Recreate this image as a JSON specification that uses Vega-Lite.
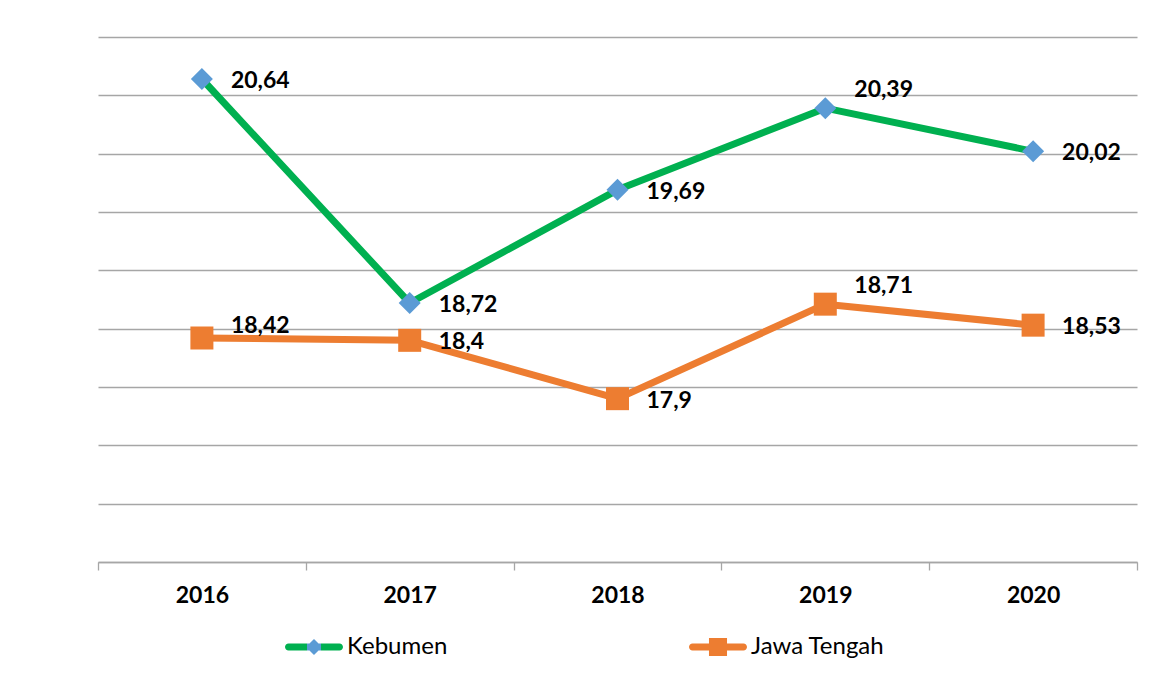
{
  "$schema": "https://vega.github.io/schema/vega-lite/v6.json",
  "width": 1039,
  "height": 525,
  "autosize": "none",
  "padding": {"left": 98, "top": 37, "right": 16, "bottom": 113},
  "background": "white",
  "config": {"view": {"stroke": null}, "legend": {"layout": {"bottom": {"anchor": "middle"}}}},
  "data": {
    "values": [
      {"year": "2016", "series": "Kebumen", "value": 20.64, "label": "20,64"},
      {"year": "2017", "series": "Kebumen", "value": 18.72, "label": "18,72"},
      {"year": "2018", "series": "Kebumen", "value": 19.69, "label": "19,69"},
      {"year": "2019", "series": "Kebumen", "value": 20.39, "label": "20,39"},
      {"year": "2020", "series": "Kebumen", "value": 20.02, "label": "20,02"},
      {"year": "2016", "series": "Jawa Tengah", "value": 18.42, "label": "18,42"},
      {"year": "2017", "series": "Jawa Tengah", "value": 18.4, "label": "18,4"},
      {"year": "2018", "series": "Jawa Tengah", "value": 17.9, "label": "17,9"},
      {"year": "2019", "series": "Jawa Tengah", "value": 18.71, "label": "18,71"},
      {"year": "2020", "series": "Jawa Tengah", "value": 18.53, "label": "18,53"}
    ]
  },
  "encoding": {
    "x": {
      "field": "year",
      "type": "ordinal",
      "scale": {"type": "band", "paddingInner": 0, "paddingOuter": 0},
      "axis": {
        "title": null,
        "labelAngle": 0,
        "labelFont": "Lato",
        "labelFontWeight": "bold",
        "labelFontSize": 23,
        "labelColor": "#000000",
        "domainColor": "#A6A6A6",
        "domainWidth": 1.3,
        "tickColor": "#A6A6A6",
        "tickWidth": 1.3,
        "tickSize": 8,
        "tickBand": "extent",
        "labelPadding": 14,
        "grid": false
      }
    },
    "y": {
      "field": "value",
      "type": "quantitative",
      "scale": {"domain": [16.5, 21], "nice": false, "zero": false},
      "axis": {
        "title": null,
        "values": [16.5, 17, 17.5, 18, 18.5, 19, 19.5, 20, 20.5, 21],
        "labels": false,
        "ticks": false,
        "domain": false,
        "grid": true,
        "gridColor": "#A6A6A6",
        "gridWidth": 1.3
      }
    }
  },
  "layer": [
    {
      "mark": {"type": "line", "strokeWidth": 7, "strokeCap": "round", "strokeJoin": "round"},
      "encoding": {
        "stroke": {
          "field": "series",
          "type": "nominal",
          "scale": {"domain": ["Kebumen", "Jawa Tengah"], "range": ["#00B050", "#ED7D31"]},
          "legend": {
            "title": null,
            "orient": "bottom",
            "direction": "horizontal",
            "labelFont": "Lato",
            "labelFontSize": 24,
            "labelColor": "#000000",
            "symbolSize": 484,
            "symbolStrokeWidth": 0,
            "symbolOpacity": 1,
            "labelOffset": 21,
            "columnPadding": 241,
            "offset": 28,
            "encode": {
              "symbols": {
                "update": {
                  "shape": {"signal": "datum.value === 'Kebumen' ? 'M-2.318,-0.318L2.318,-0.318A0.318,0.318 0 0 1 2.318,0.318L-2.318,0.318A0.318,0.318 0 0 1 -2.318,-0.318ZM0,-0.73L0.73,0L0,0.73L-0.73,0Z' : 'M-2.318,-0.318L2.318,-0.318A0.318,0.318 0 0 1 2.318,0.318L-2.318,0.318A0.318,0.318 0 0 1 -2.318,-0.318ZM-0.82,-0.82L0.82,-0.82L0.82,0.82L-0.82,0.82ZM19.5,0'"},
                  "fill": {"signal": "datum.value === 'Kebumen' ? {gradient: 'linear', x1: 0, y1: 0, x2: 1, y2: 0, stops: [{offset: 0, color: '#00B050'}, {offset: 0.385, color: '#00B050'}, {offset: 0.385, color: '#5B9BD5'}, {offset: 0.615, color: '#5B9BD5'}, {offset: 0.615, color: '#00B050'}, {offset: 1, color: '#00B050'}]} : '#ED7D31'"},
                  "strokeWidth": {"value": 0}
                }
              }
            }
          }
        }
      }
    },
    {
      "transform": [{"filter": "datum.series === 'Kebumen'"}],
      "mark": {"type": "point", "shape": "diamond", "filled": true, "fill": "#5B9BD5", "opacity": 1, "size": 484, "strokeWidth": 0}
    },
    {
      "transform": [{"filter": "datum.series === 'Jawa Tengah'"}],
      "mark": {"type": "point", "shape": "square", "filled": true, "fill": "#ED7D31", "opacity": 1, "size": 529, "strokeWidth": 0}
    },
    {
      "transform": [{"filter": "datum.year !== '2019' && !(datum.year === '2016' && datum.series === 'Jawa Tengah')"}],
      "mark": {"type": "text", "align": "left", "baseline": "middle", "dx": 29, "dy": 2, "font": "Lato", "fontWeight": "bold", "fontSize": 23, "color": "#000000"},
      "encoding": {"text": {"field": "label", "type": "nominal"}}
    },
    {
      "transform": [{"filter": "datum.year === '2019'"}],
      "mark": {"type": "text", "align": "left", "baseline": "middle", "dx": 29, "dy": -18, "font": "Lato", "fontWeight": "bold", "fontSize": 23, "color": "#000000"},
      "encoding": {"text": {"field": "label", "type": "nominal"}}
    },
    {
      "transform": [{"filter": "datum.year === '2016' && datum.series === 'Jawa Tengah'"}],
      "mark": {"type": "text", "align": "left", "baseline": "middle", "dx": 29, "dy": -12, "font": "Lato", "fontWeight": "bold", "fontSize": 23, "color": "#000000"},
      "encoding": {"text": {"field": "label", "type": "nominal"}}
    }
  ]
}
